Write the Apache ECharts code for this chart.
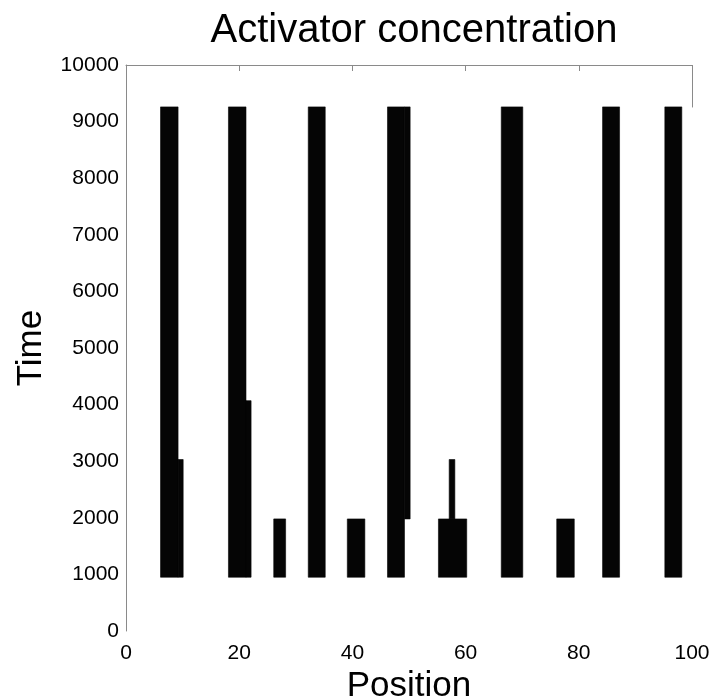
<!DOCTYPE html>
<html>
<head>
<meta charset="utf-8">
<script src="https://cdn.jsdelivr.net/npm/echarts@6/dist/echarts.min.js"></script>
<style>
    html, body { margin: 0; padding: 0; background: #fff; }
    #chart { width: 712px; height: 696px; }
</style>
</head>
<body>
<div id="chart"></div>
<script>
// high activator cells: [position from, position to, time from, time to]
var cellsFrom = [6.1, 9.2, 18.1, 21.2, 26.1, 32.2, 39.1, 46.2, 49.2, 55.2, 57.1, 66.3, 76.1, 84.2, 95.2];
var cellsTo   = [9.2, 10.1, 21.2, 22.1, 28.2, 35.2, 42.2, 49.2, 50.2, 60.2, 58.1, 70.1, 79.2, 87.2, 98.2];
var timeFrom  = [950, 950, 950, 950, 950, 950, 950, 950, 1980, 950, 1980, 950, 950, 950, 950];
var timeTo    = [9260, 3030, 9260, 4070, 1980, 9260, 1980, 9260, 9260, 1980, 3030, 9260, 1980, 9260, 9260];

var positionTicks = [0, 20, 40, 60, 80, 100];
var timeTicks = [0, 1000, 2000, 3000, 4000, 5000, 6000, 7000, 8000, 9000, 10000];

var font = "'Liberation Sans', Arial, sans-serif";
var axisGray = '#8a8a8a';

var cells = cellsFrom.map(function (x0, i) {
    return [x0, cellsTo[i], timeFrom[i], timeTo[i]];
});

var chart = echarts.init(document.getElementById('chart'));

chart.setOption({
    animation: false,
    backgroundColor: '#fff',
    textStyle: { fontFamily: font },
    title: {
        text: 'Activator concentration',
        left: 409,
        top: 6,
        textAlign: 'center',
        textStyle: { fontFamily: font, fontSize: 40, fontWeight: 'normal', color: '#000' }
    },
    grid: { left: 126, right: 20, top: 65, bottom: 65, containLabel: false, outerBoundsMode: 'none' },
    xAxis: [
        {
            type: 'value',
            position: 'bottom',
            min: positionTicks[0],
            max: positionTicks[positionTicks.length - 1],
            interval: 20,
            name: 'Position',
            nameLocation: 'middle',
            nameGap: 36,
            nameTextStyle: { fontFamily: font, fontSize: 35, color: '#000' },
            axisLine: { show: false },
            axisTick: { show: false },
            splitLine: { show: false },
            axisLabel: { fontFamily: font, fontSize: 21, color: '#000', margin: 12 }
        },
        {
            type: 'value',
            position: 'top',
            min: positionTicks[0],
            max: positionTicks[positionTicks.length - 1],
            interval: 20,
            axisLine: { show: true, lineStyle: { color: axisGray, width: 1 } },
            axisTick: { show: true, inside: true, length: 6, lineStyle: { color: axisGray } },
            axisLabel: { show: false },
            splitLine: { show: false }
        }
    ],
    yAxis: {
        type: 'value',
        min: timeTicks[0],
        max: timeTicks[timeTicks.length - 1],
        interval: 1000,
        name: 'Time',
        nameLocation: 'middle',
        nameRotate: 90,
        nameGap: 77,
        nameTextStyle: { fontFamily: font, fontSize: 35, color: '#000' },
        axisLine: { show: true, lineStyle: { color: axisGray, width: 1 } },
        axisTick: { show: false },
        splitLine: { show: false },
        axisLabel: {
            fontFamily: font, fontSize: 21, color: '#000', margin: 7,
            formatter: function (v) { return String(v); }
        }
    },
    series: [{
        type: 'custom',
        xAxisIndex: 0,
        yAxisIndex: 0,
        data: cells,
        encode: { x: [0, 1], y: [2, 3] },
        renderItem: function (params, api) {
            var p0 = api.coord([api.value(0), api.value(3)]);
            var p1 = api.coord([api.value(1), api.value(2)]);
            return {
                type: 'rect',
                shape: { x: p0[0], y: p0[1], width: p1[0] - p0[0], height: p1[1] - p0[1] },
                style: { fill: '#050505', stroke: '#050505', lineWidth: 0.6, lineJoin: 'miter' }
            };
        },
        markLine: {
            silent: true,
            symbol: 'none',
            label: { show: false },
            lineStyle: { color: axisGray, width: 1, type: 'solid' },
            data: [[{ coord: [100, 9250] }, { coord: [100, 10000] }]]
        }
    }]
});
</script>
</body>
</html>
